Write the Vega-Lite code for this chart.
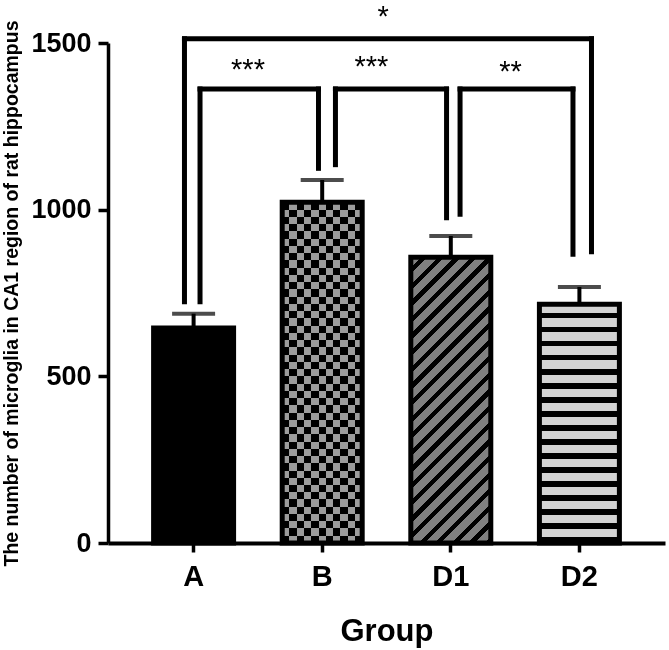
{
  "$schema": "https://vega.github.io/schema/vega-lite/v6.json",
  "width": 557,
  "height": 500,
  "autosize": {"type": "none"},
  "padding": {"left": 108, "top": 43, "right": 4, "bottom": 107},
  "background": "white",
  "config": {
    "view": {"stroke": null},
    "font": "Liberation Sans",
    "axisY": {
      "grid": false, "format": "d",
      "domainColor": "black", "domainWidth": 3.5,
      "tickColor": "black", "tickWidth": 3.5, "tickSize": 10,
      "labelFont": "Liberation Sans", "labelFontWeight": "bold", "labelFontSize": 27, "labelColor": "black", "labelPadding": 7,
      "titleFont": "Liberation Sans", "titleFontWeight": "bold", "titleFontSize": 19.5, "titleColor": "black", "titlePadding": 9
    },
    "axisX": {
      "grid": false, "labelAngle": 0,
      "domainColor": "black", "domainWidth": 4,
      "tickColor": "black", "tickWidth": 3.5, "tickSize": 9,
      "labelFont": "Liberation Sans", "labelFontWeight": "bold", "labelFontSize": 29, "labelColor": "black", "labelPadding": 10,
      "titleFont": "Liberation Sans", "titleFontWeight": "bold", "titleFontSize": 31, "titleColor": "black", "titlePadding": 25
    }
  },
  "datasets": {
    "bars": [
      {"group": "A", "mean": 645, "upper": 688},
      {"group": "B", "mean": 1022, "upper": 1089},
      {"group": "D1", "mean": 857, "upper": 921},
      {"group": "D2", "mean": 716, "upper": 768}
    ],
    "brackets": [
      {"x": -0.071, "x2": 3.094, "y": 1513, "y2": 1513},
      {"x": -0.071, "x2": -0.071, "y": 1513, "y2": 724},
      {"x": 3.094, "x2": 3.094, "y": 1513, "y2": 874},
      {"x": 0.05, "x2": 0.971, "y": 1362, "y2": 1362},
      {"x": 0.05, "x2": 0.05, "y": 1362, "y2": 724},
      {"x": 0.971, "x2": 0.971, "y": 1362, "y2": 1124},
      {"x": 1.103, "x2": 1.967, "y": 1362, "y2": 1362},
      {"x": 1.103, "x2": 1.103, "y": 1362, "y2": 1135},
      {"x": 1.967, "x2": 1.967, "y": 1362, "y2": 976},
      {"x": 2.072, "x2": 2.95, "y": 1362, "y2": 1362},
      {"x": 2.072, "x2": 2.072, "y": 1362, "y2": 986},
      {"x": 2.95, "x2": 2.95, "y": 1362, "y2": 866}
    ],
    "stars": [
      {"x": 0.423, "y": 1392, "label": "***"},
      {"x": 1.383, "y": 1402, "label": "***"},
      {"x": 2.464, "y": 1386, "label": "**"},
      {"x": 1.473, "y": 1550, "label": "*"}
    ]
  },
  "layer": [
    {
      "data": {"name": "bars"},
      "encoding": {
        "x": {
          "field": "group", "type": "nominal",
          "scale": {"domain": ["A", "B", "D1", "D2"], "paddingInner": 0.378, "paddingOuter": 0.3546},
          "axis": {"title": "Group"}
        },
        "y": {
          "field": "mean", "type": "quantitative",
          "scale": {"domain": [0, 1500], "nice": false},
          "axis": {"title": "The number of microglia in CA1 region of rat hippocampus", "values": [0, 500, 1000, 1500]}
        }
      },
      "layer": [
        {
          "transform": [{"filter": "datum.group === 'A'"}],
          "mark": {"type": "bar", "fill": "black", "stroke": "black", "strokeWidth": 5, "clip": false}
        },
        {
          "transform": [{"filter": "datum.group === 'B'"}],
          "mark": {"type": "bar", "strokeWidth": 0, "clip": false,
            "fill": {"gradient": "linear", "x1": 0, "y1": 0, "x2": 1, "y2": 0, "stops": [
              {"offset": 0, "color": "#ffffff"}, {"offset": 0.0909, "color": "#ffffff"}, {"offset": 0.0909, "color": "#000000"}, {"offset": 0.1818, "color": "#000000"},
              {"offset": 0.1818, "color": "#ffffff"}, {"offset": 0.2727, "color": "#ffffff"}, {"offset": 0.2727, "color": "#000000"}, {"offset": 0.3636, "color": "#000000"},
              {"offset": 0.3636, "color": "#ffffff"}, {"offset": 0.4545, "color": "#ffffff"}, {"offset": 0.4545, "color": "#000000"}, {"offset": 0.5455, "color": "#000000"},
              {"offset": 0.5455, "color": "#ffffff"}, {"offset": 0.6364, "color": "#ffffff"}, {"offset": 0.6364, "color": "#000000"}, {"offset": 0.7273, "color": "#000000"},
              {"offset": 0.7273, "color": "#ffffff"}, {"offset": 0.8182, "color": "#ffffff"}, {"offset": 0.8182, "color": "#000000"}, {"offset": 0.9091, "color": "#000000"},
              {"offset": 0.9091, "color": "#ffffff"}, {"offset": 1, "color": "#ffffff"}
            ]}
          }
        },
        {
          "transform": [{"filter": "datum.group === 'B'"}],
          "mark": {"type": "bar", "strokeWidth": 0, "clip": false, "blend": "difference",
            "fill": {"gradient": "linear", "x1": 0, "y1": 0, "x2": 0, "y2": 1, "stops": [
              {"offset": 0, "color": "#ffffff"}, {"offset": 0.0213, "color": "#ffffff"}, {"offset": 0.0213, "color": "#000000"}, {"offset": 0.0426, "color": "#000000"},
              {"offset": 0.0426, "color": "#ffffff"}, {"offset": 0.0638, "color": "#ffffff"}, {"offset": 0.0638, "color": "#000000"}, {"offset": 0.0851, "color": "#000000"},
              {"offset": 0.0851, "color": "#ffffff"}, {"offset": 0.1064, "color": "#ffffff"}, {"offset": 0.1064, "color": "#000000"}, {"offset": 0.1277, "color": "#000000"},
              {"offset": 0.1277, "color": "#ffffff"}, {"offset": 0.1489, "color": "#ffffff"}, {"offset": 0.1489, "color": "#000000"}, {"offset": 0.1702, "color": "#000000"},
              {"offset": 0.1702, "color": "#ffffff"}, {"offset": 0.1915, "color": "#ffffff"}, {"offset": 0.1915, "color": "#000000"}, {"offset": 0.2128, "color": "#000000"},
              {"offset": 0.2128, "color": "#ffffff"}, {"offset": 0.234, "color": "#ffffff"}, {"offset": 0.234, "color": "#000000"}, {"offset": 0.2553, "color": "#000000"},
              {"offset": 0.2553, "color": "#ffffff"}, {"offset": 0.2766, "color": "#ffffff"}, {"offset": 0.2766, "color": "#000000"}, {"offset": 0.2979, "color": "#000000"},
              {"offset": 0.2979, "color": "#ffffff"}, {"offset": 0.3191, "color": "#ffffff"}, {"offset": 0.3191, "color": "#000000"}, {"offset": 0.3404, "color": "#000000"},
              {"offset": 0.3404, "color": "#ffffff"}, {"offset": 0.3617, "color": "#ffffff"}, {"offset": 0.3617, "color": "#000000"}, {"offset": 0.383, "color": "#000000"},
              {"offset": 0.383, "color": "#ffffff"}, {"offset": 0.4043, "color": "#ffffff"}, {"offset": 0.4043, "color": "#000000"}, {"offset": 0.4255, "color": "#000000"},
              {"offset": 0.4255, "color": "#ffffff"}, {"offset": 0.4468, "color": "#ffffff"}, {"offset": 0.4468, "color": "#000000"}, {"offset": 0.4681, "color": "#000000"},
              {"offset": 0.4681, "color": "#ffffff"}, {"offset": 0.4894, "color": "#ffffff"}, {"offset": 0.4894, "color": "#000000"}, {"offset": 0.5106, "color": "#000000"},
              {"offset": 0.5106, "color": "#ffffff"}, {"offset": 0.5319, "color": "#ffffff"}, {"offset": 0.5319, "color": "#000000"}, {"offset": 0.5532, "color": "#000000"},
              {"offset": 0.5532, "color": "#ffffff"}, {"offset": 0.5745, "color": "#ffffff"}, {"offset": 0.5745, "color": "#000000"}, {"offset": 0.5957, "color": "#000000"},
              {"offset": 0.5957, "color": "#ffffff"}, {"offset": 0.617, "color": "#ffffff"}, {"offset": 0.617, "color": "#000000"}, {"offset": 0.6383, "color": "#000000"},
              {"offset": 0.6383, "color": "#ffffff"}, {"offset": 0.6596, "color": "#ffffff"}, {"offset": 0.6596, "color": "#000000"}, {"offset": 0.6809, "color": "#000000"},
              {"offset": 0.6809, "color": "#ffffff"}, {"offset": 0.7021, "color": "#ffffff"}, {"offset": 0.7021, "color": "#000000"}, {"offset": 0.7234, "color": "#000000"},
              {"offset": 0.7234, "color": "#ffffff"}, {"offset": 0.7447, "color": "#ffffff"}, {"offset": 0.7447, "color": "#000000"}, {"offset": 0.766, "color": "#000000"},
              {"offset": 0.766, "color": "#ffffff"}, {"offset": 0.7872, "color": "#ffffff"}, {"offset": 0.7872, "color": "#000000"}, {"offset": 0.8085, "color": "#000000"},
              {"offset": 0.8085, "color": "#ffffff"}, {"offset": 0.8298, "color": "#ffffff"}, {"offset": 0.8298, "color": "#000000"}, {"offset": 0.8511, "color": "#000000"},
              {"offset": 0.8511, "color": "#ffffff"}, {"offset": 0.8723, "color": "#ffffff"}, {"offset": 0.8723, "color": "#000000"}, {"offset": 0.8936, "color": "#000000"},
              {"offset": 0.8936, "color": "#ffffff"}, {"offset": 0.9149, "color": "#ffffff"}, {"offset": 0.9149, "color": "#000000"}, {"offset": 0.9362, "color": "#000000"},
              {"offset": 0.9362, "color": "#ffffff"}, {"offset": 0.9574, "color": "#ffffff"}, {"offset": 0.9574, "color": "#000000"}, {"offset": 0.9787, "color": "#000000"},
              {"offset": 0.9787, "color": "#ffffff"}, {"offset": 1, "color": "#ffffff"}
            ]}
          }
        },
        {
          "transform": [{"filter": "datum.group === 'B'"}],
          "mark": {"type": "bar", "strokeWidth": 0, "clip": false, "blend": "multiply", "fill": "#9c9c9c"}
        },
        {
          "transform": [{"filter": "datum.group === 'B'"}],
          "mark": {"type": "bar", "filled": false, "color": "black", "strokeWidth": 5, "clip": false}
        },
        {
          "transform": [{"filter": "datum.group === 'D1'"}],
          "mark": {"type": "bar", "stroke": "black", "strokeWidth": 5, "clip": false,
            "fill": {"gradient": "linear", "x1": 0, "y1": 0, "x2": 0.3324, "y2": 1.187, "stops": [
              {"offset": 0, "color": "#808080"}, {"offset": 0.0282, "color": "#808080"}, {"offset": 0.0282, "color": "#000000"}, {"offset": 0.0455, "color": "#000000"},
              {"offset": 0.0455, "color": "#808080"}, {"offset": 0.0737, "color": "#808080"}, {"offset": 0.0737, "color": "#000000"}, {"offset": 0.0909, "color": "#000000"},
              {"offset": 0.0909, "color": "#808080"}, {"offset": 0.1191, "color": "#808080"}, {"offset": 0.1191, "color": "#000000"}, {"offset": 0.1364, "color": "#000000"},
              {"offset": 0.1364, "color": "#808080"}, {"offset": 0.1646, "color": "#808080"}, {"offset": 0.1646, "color": "#000000"}, {"offset": 0.1818, "color": "#000000"},
              {"offset": 0.1818, "color": "#808080"}, {"offset": 0.21, "color": "#808080"}, {"offset": 0.21, "color": "#000000"}, {"offset": 0.2273, "color": "#000000"},
              {"offset": 0.2273, "color": "#808080"}, {"offset": 0.2555, "color": "#808080"}, {"offset": 0.2555, "color": "#000000"}, {"offset": 0.2727, "color": "#000000"},
              {"offset": 0.2727, "color": "#808080"}, {"offset": 0.3009, "color": "#808080"}, {"offset": 0.3009, "color": "#000000"}, {"offset": 0.3182, "color": "#000000"},
              {"offset": 0.3182, "color": "#808080"}, {"offset": 0.3464, "color": "#808080"}, {"offset": 0.3464, "color": "#000000"}, {"offset": 0.3636, "color": "#000000"},
              {"offset": 0.3636, "color": "#808080"}, {"offset": 0.3918, "color": "#808080"}, {"offset": 0.3918, "color": "#000000"}, {"offset": 0.4091, "color": "#000000"},
              {"offset": 0.4091, "color": "#808080"}, {"offset": 0.4373, "color": "#808080"}, {"offset": 0.4373, "color": "#000000"}, {"offset": 0.4545, "color": "#000000"},
              {"offset": 0.4545, "color": "#808080"}, {"offset": 0.4827, "color": "#808080"}, {"offset": 0.4827, "color": "#000000"}, {"offset": 0.5, "color": "#000000"},
              {"offset": 0.5, "color": "#808080"}, {"offset": 0.5282, "color": "#808080"}, {"offset": 0.5282, "color": "#000000"}, {"offset": 0.5455, "color": "#000000"},
              {"offset": 0.5455, "color": "#808080"}, {"offset": 0.5737, "color": "#808080"}, {"offset": 0.5737, "color": "#000000"}, {"offset": 0.5909, "color": "#000000"},
              {"offset": 0.5909, "color": "#808080"}, {"offset": 0.6191, "color": "#808080"}, {"offset": 0.6191, "color": "#000000"}, {"offset": 0.6364, "color": "#000000"},
              {"offset": 0.6364, "color": "#808080"}, {"offset": 0.6646, "color": "#808080"}, {"offset": 0.6646, "color": "#000000"}, {"offset": 0.6818, "color": "#000000"},
              {"offset": 0.6818, "color": "#808080"}, {"offset": 0.71, "color": "#808080"}, {"offset": 0.71, "color": "#000000"}, {"offset": 0.7273, "color": "#000000"},
              {"offset": 0.7273, "color": "#808080"}, {"offset": 0.7555, "color": "#808080"}, {"offset": 0.7555, "color": "#000000"}, {"offset": 0.7727, "color": "#000000"},
              {"offset": 0.7727, "color": "#808080"}, {"offset": 0.8009, "color": "#808080"}, {"offset": 0.8009, "color": "#000000"}, {"offset": 0.8182, "color": "#000000"},
              {"offset": 0.8182, "color": "#808080"}, {"offset": 0.8464, "color": "#808080"}, {"offset": 0.8464, "color": "#000000"}, {"offset": 0.8636, "color": "#000000"},
              {"offset": 0.8636, "color": "#808080"}, {"offset": 0.8918, "color": "#808080"}, {"offset": 0.8918, "color": "#000000"}, {"offset": 0.9091, "color": "#000000"},
              {"offset": 0.9091, "color": "#808080"}, {"offset": 0.9373, "color": "#808080"}, {"offset": 0.9373, "color": "#000000"}, {"offset": 0.9545, "color": "#000000"},
              {"offset": 0.9545, "color": "#808080"}, {"offset": 0.9827, "color": "#808080"}, {"offset": 0.9827, "color": "#000000"}, {"offset": 1, "color": "#000000"}
            ]}
          }
        },
        {
          "transform": [{"filter": "datum.group === 'D2'"}],
          "mark": {"type": "bar", "stroke": "black", "strokeWidth": 5, "clip": false,
            "fill": {"gradient": "linear", "x1": 0, "y1": 0, "x2": 0, "y2": 1, "stops": [
              {"offset": 0, "color": "#d3d3d3"}, {"offset": 0.0347, "color": "#d3d3d3"}, {"offset": 0.0347, "color": "#000000"}, {"offset": 0.0588, "color": "#000000"},
              {"offset": 0.0588, "color": "#d3d3d3"}, {"offset": 0.0935, "color": "#d3d3d3"}, {"offset": 0.0935, "color": "#000000"}, {"offset": 0.1176, "color": "#000000"},
              {"offset": 0.1176, "color": "#d3d3d3"}, {"offset": 0.1523, "color": "#d3d3d3"}, {"offset": 0.1523, "color": "#000000"}, {"offset": 0.1765, "color": "#000000"},
              {"offset": 0.1765, "color": "#d3d3d3"}, {"offset": 0.2112, "color": "#d3d3d3"}, {"offset": 0.2112, "color": "#000000"}, {"offset": 0.2353, "color": "#000000"},
              {"offset": 0.2353, "color": "#d3d3d3"}, {"offset": 0.27, "color": "#d3d3d3"}, {"offset": 0.27, "color": "#000000"}, {"offset": 0.2941, "color": "#000000"},
              {"offset": 0.2941, "color": "#d3d3d3"}, {"offset": 0.3288, "color": "#d3d3d3"}, {"offset": 0.3288, "color": "#000000"}, {"offset": 0.3529, "color": "#000000"},
              {"offset": 0.3529, "color": "#d3d3d3"}, {"offset": 0.3876, "color": "#d3d3d3"}, {"offset": 0.3876, "color": "#000000"}, {"offset": 0.4118, "color": "#000000"},
              {"offset": 0.4118, "color": "#d3d3d3"}, {"offset": 0.4465, "color": "#d3d3d3"}, {"offset": 0.4465, "color": "#000000"}, {"offset": 0.4706, "color": "#000000"},
              {"offset": 0.4706, "color": "#d3d3d3"}, {"offset": 0.5053, "color": "#d3d3d3"}, {"offset": 0.5053, "color": "#000000"}, {"offset": 0.5294, "color": "#000000"},
              {"offset": 0.5294, "color": "#d3d3d3"}, {"offset": 0.5641, "color": "#d3d3d3"}, {"offset": 0.5641, "color": "#000000"}, {"offset": 0.5882, "color": "#000000"},
              {"offset": 0.5882, "color": "#d3d3d3"}, {"offset": 0.6229, "color": "#d3d3d3"}, {"offset": 0.6229, "color": "#000000"}, {"offset": 0.6471, "color": "#000000"},
              {"offset": 0.6471, "color": "#d3d3d3"}, {"offset": 0.6818, "color": "#d3d3d3"}, {"offset": 0.6818, "color": "#000000"}, {"offset": 0.7059, "color": "#000000"},
              {"offset": 0.7059, "color": "#d3d3d3"}, {"offset": 0.7406, "color": "#d3d3d3"}, {"offset": 0.7406, "color": "#000000"}, {"offset": 0.7647, "color": "#000000"},
              {"offset": 0.7647, "color": "#d3d3d3"}, {"offset": 0.7994, "color": "#d3d3d3"}, {"offset": 0.7994, "color": "#000000"}, {"offset": 0.8235, "color": "#000000"},
              {"offset": 0.8235, "color": "#d3d3d3"}, {"offset": 0.8582, "color": "#d3d3d3"}, {"offset": 0.8582, "color": "#000000"}, {"offset": 0.8824, "color": "#000000"},
              {"offset": 0.8824, "color": "#d3d3d3"}, {"offset": 0.9171, "color": "#d3d3d3"}, {"offset": 0.9171, "color": "#000000"}, {"offset": 0.9412, "color": "#000000"},
              {"offset": 0.9412, "color": "#d3d3d3"}, {"offset": 0.9759, "color": "#d3d3d3"}, {"offset": 0.9759, "color": "#000000"}, {"offset": 1, "color": "#000000"}
            ]}
          }
        },
        {
          "mark": {"type": "rule", "color": "black", "strokeWidth": 4, "clip": false},
          "encoding": {"y2": {"field": "upper"}}
        },
        {
          "mark": {"type": "tick", "color": "black", "size": 43, "thickness": 4, "clip": false},
          "encoding": {"y": {"field": "upper", "type": "quantitative", "scale": {"domain": [0, 1500], "nice": false},
            "axis": {"title": "The number of microglia in CA1 region of rat hippocampus", "values": [0, 500, 1000, 1500]}}}
        }
      ]
    },
    {
      "data": {"name": "brackets"},
      "mark": {"type": "rule", "color": "black", "strokeWidth": 5, "strokeCap": "square", "clip": false},
      "encoding": {
        "x": {"field": "x", "type": "quantitative", "scale": {"domain": [-0.6656, 3.6656], "nice": false, "zero": false}, "axis": null},
        "x2": {"field": "x2"},
        "y": {"field": "y", "type": "quantitative", "scale": {"domain": [0, 1500], "nice": false},
          "axis": {"title": "The number of microglia in CA1 region of rat hippocampus", "values": [0, 500, 1000, 1500]}},
        "y2": {"field": "y2"}
      }
    },
    {
      "data": {"name": "stars"},
      "mark": {"type": "text", "font": "Liberation Sans", "fontSize": 29, "color": "black", "align": "center", "baseline": "alphabetic", "clip": false},
      "encoding": {
        "x": {"field": "x", "type": "quantitative", "scale": {"domain": [-0.6656, 3.6656], "nice": false, "zero": false}, "axis": null},
        "y": {"field": "y", "type": "quantitative", "scale": {"domain": [0, 1500], "nice": false},
          "axis": {"title": "The number of microglia in CA1 region of rat hippocampus", "values": [0, 500, 1000, 1500]}},
        "text": {"field": "label"}
      }
    }
  ],
  "resolve": {"scale": {"x": "independent"}}
}
